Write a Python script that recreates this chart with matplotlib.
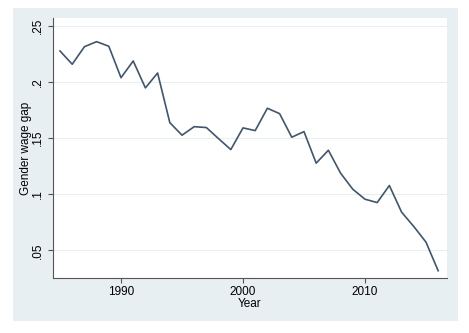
import matplotlib.pyplot as plt
from matplotlib.patches import Rectangle

years = list(range(1985, 2017))
wage_gap = [0.2275, 0.2157, 0.2313, 0.2358, 0.2317, 0.2037, 0.2186, 0.1946,
            0.2079, 0.1637, 0.1525, 0.1601, 0.1593, 0.1494, 0.1397, 0.1590,
            0.1566, 0.1765, 0.1717, 0.1507, 0.1557, 0.1276, 0.1391, 0.1187,
            0.1044, 0.0955, 0.0925, 0.1077, 0.0840, 0.0712, 0.0573, 0.0318]
y_ticks = [0.05, 0.10, 0.15, 0.20, 0.25]
y_tick_labels = ['.05', '.1', '.15', '.2', '.25']
x_ticks = [1990, 2000, 2010]

plt.rcParams['font.family'] = ['Liberation Sans', 'DejaVu Sans']

fig = plt.figure(figsize=(4.69, 3.33), dpi=100)
fig.patch.set_facecolor('white')
# Stata-style shaded graph region
fig.patches.append(Rectangle((13 / 469, 12 / 333), 445 / 469, 313 / 333,
                             transform=fig.transFigure, facecolor='#e8eff2',
                             edgecolor='none', zorder=-1))

ax = fig.add_axes([52.7 / 469, 55.3 / 333, 394 / 469, 259.4 / 333])
ax.set_zorder(1)
ax.set_facecolor('white')
ax.plot(years, wage_gap, color='#3f5670', lw=1.2)

ax.set_xlim(1984.4, 2016.7)
ax.set_ylim(0.0256, 0.2566)
ax.set_yticks(y_ticks)
ax.set_yticklabels(y_tick_labels, rotation=90, va='center')
ax.set_xticks(x_ticks)
ax.grid(axis='y', color='#e9eef0', lw=0.8)
ax.set_axisbelow(True)

for side in ['top', 'right']:
    ax.spines[side].set_visible(False)
for side in ['left', 'bottom']:
    ax.spines[side].set_color('#555555')
    ax.spines[side].set_linewidth(0.8)
ax.tick_params(length=3.5, width=0.8, color='#555555', labelsize=8.5, pad=2.5)

ax.set_xlabel('Year', fontsize=8.5, labelpad=0)
ax.set_ylabel('Gender wage gap', fontsize=8.5, labelpad=0.5)

fig.savefig('out.png', dpi=100)
